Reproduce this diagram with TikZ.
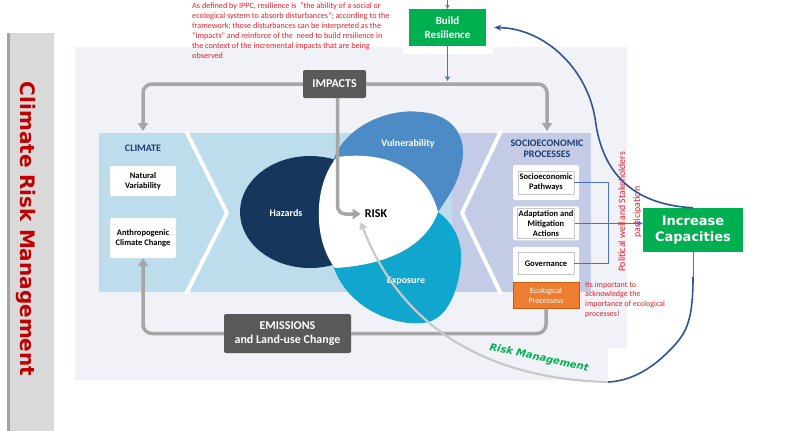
\documentclass[tikz,border=0pt]{standalone}
\usepackage{fontspec}
\setmainfont{Carlito}
\newfontfamily\verdanalike{DejaVu Sans}
\usetikzlibrary{arrows.meta, positioning, calc}
\definecolor{panelbg}{HTML}{F0F2F8}
\definecolor{climblue}{HTML}{BEDDEC}
\definecolor{sociopurple}{HTML}{C4CBE7}
\definecolor{hazardnavy}{HTML}{16365C}
\definecolor{vulnblue}{HTML}{4D8BC6}
\definecolor{exposurecyan}{HTML}{10A6CE}
\definecolor{impactgray}{HTML}{595959}
\definecolor{cyclegray}{HTML}{A6A6A6}
\definecolor{arcgray}{HTML}{C9C9C9}
\definecolor{notered}{HTML}{E3202A}
\definecolor{titlered}{HTML}{C00000}
\definecolor{boxgreen}{HTML}{00B050}
\definecolor{flowblue}{HTML}{4472C4}
\definecolor{curveblue}{HTML}{2F5597}
\definecolor{headnavy}{HTML}{1F3E6E}
\definecolor{ecoorange}{HTML}{ED7D31}
\definecolor{ecoedge}{HTML}{C55A11}
\definecolor{bargray}{HTML}{D9D9D9}
\definecolor{baredge}{HTML}{A3A3A3}

\begin{document}
\begin{tikzpicture}[
    x=1pt, y=-1pt,
    >=Stealth,
    card/.style={
        fill=white,
        rounded corners=2pt,
        minimum width=66pt,
        align=center,
        font=\bfseries\fontsize{8.5}{10}\selectfont,
    },
    inbox/.style={
        draw=black!22,
        line width=0.4pt,
        fill=white,
        inner sep=1pt,
        minimum width=56pt,
        align=center,
        font=\bfseries\fontsize{8.5}{9.8}\selectfont,
    },
    darkbox/.style={
        fill=impactgray,
        rounded corners=2pt,
        text=white,
        align=center,
    },
    greenbox/.style={
        fill=boxgreen,
        text=white,
        align=center,
    },
    shapelbl/.style={
        text=white,
        font=\bfseries\fontsize{10}{12}\selectfont,
    },
    note/.style={
        text=notered,
        align=left,
        inner sep=0pt,
    },
    cycleline/.style={
        draw=cyclegray,
        line width=3.5pt,
        rounded corners=9pt,
    },
    cyclearrow/.style={
        cycleline,
        -{Triangle[width=10pt,length=8pt]},
    },
    feed/.style={
        draw=flowblue,
        line width=0.9pt,
    },
    swoop/.style={
        draw=curveblue,
        line width=1.6pt,
    },
]
\useasboundingbox (0,0) rectangle (785,431);

% --- side title bar ---
\fill[bargray] (7,33) rectangle (54,431);
\fill[baredge] (7,33) rectangle (10,431);
\node[rotate=-90, text=titlered,
    font=\verdanalike\bfseries\fontsize{20}{24}\selectfont] (title) at (26,229) {Climate Risk Management};

% --- framework background ---
\fill[panelbg] (75,47) rectangle (627,380);
\fill[white] (403,0) rectangle (493,54);
\fill[white] (608,348) rectangle (627,380);

% --- climate / socioeconomic bands with chevrons ---
\fill[climblue] (99,133) rectangle (452,292);
\fill[sociopurple] (452,133) rectangle (591,292);
\draw[white, line width=4] (186,131) -- (227,213) -- (186,294);
\draw[white, line width=4] (501,131) -- (462,213) -- (501,294);

% --- hazards, vulnerability, exposure and the risk lens ---
\fill[hazardnavy] (310,212) ellipse [x radius=70, y radius=56];
\fill[vulnblue] (333,161) .. controls (345,125) and (390,108) .. (420,112)
    .. controls (455,114) and (470,140) .. (460,170)
    .. controls (457,185) and (446,200) .. (438,212) -- (380,215) -- cycle;
\fill[exposurecyan] (438,212) .. controls (452,222) and (463,240) .. (461,262)
    .. controls (458,295) and (445,322) .. (422,323)
    .. controls (390,326) and (345,305) .. (333,265) -- (380,220) -- cycle;
\fill[white] (337,157) .. controls (390,150) and (428,172) .. (438,212)
    .. controls (425,248) and (385,265) .. (335,268)
    .. controls (313,240) and (313,185) .. (337,157) -- cycle;

\node[shapelbl] (hazards) at (286,213) {Hazards};
\node[shapelbl] (vuln) at (408,144) {Vulnerability};
\node[shapelbl] (exposure) at (406,281) {Exposure};
\node[font=\bfseries\fontsize{12}{14}\selectfont, inner sep=4pt] (risk) at (376,214) {RISK};

% --- climate column ---
\node[text=headnavy, font=\bfseries\fontsize{10}{12}\selectfont] (climate) at (143,148) {CLIMATE};
\node[card, minimum height=30pt] (natural) at (143,181) {Natural\\Variability};
\node[card, minimum height=40pt] (anthro) at (143,238) {Anthropogenic\\Climate Change};

% --- socioeconomic column ---
\node[text=headnavy, align=center, font=\bfseries\fontsize{10}{11}\selectfont] (socio) at (547,149) {SOCIOECONOMIC\\PROCESSES};
\node[card, minimum height=35pt] (pathcard) at (546,182.5) {};
\node[card, minimum height=34pt, below=6pt of pathcard] (adaptcard) {};
\node[card, minimum height=35pt, below=6pt of adaptcard] (govcard) {};
\node[inbox, minimum height=23pt] (pathways) at (pathcard) {Socioeconomic\\Pathways};
\node[inbox, minimum height=30pt] (adapt) at (adaptcard) {Adaptation and\\Mitigation\\Actions};
\node[inbox, minimum height=22pt] (gov) at ([yshift=1pt]govcard.center) {Governance};
\node[fill=ecoorange, draw=ecoedge, line width=0.6pt, text=white, align=center,
    minimum width=66pt, minimum height=26pt, inner sep=1pt,
    font=\fontsize{8}{10}\selectfont, below=0pt of govcard] (eco) {Ecological\\Processess};

% --- loop boxes ---
\node[darkbox, minimum width=63pt, minimum height=28pt,
    font=\bfseries\fontsize{12}{14}\selectfont] (impacts) at (334.5,84) {IMPACTS};
\node[darkbox, minimum width=127pt, minimum height=39pt,
    font=\bfseries\fontsize{12}{14.5}\selectfont] (emissions) at (287.5,333.5) {EMISSIONS\\and Land-use Change};

% --- green action boxes ---
\node[greenbox, minimum width=77pt, minimum height=37pt,
    font=\bfseries\fontsize{11}{14}\selectfont] (build) at (447.5,27.5) {Build\\Resilience};
\node[greenbox, minimum width=100pt, minimum height=44pt,
    font=\verdanalike\bfseries\fontsize{13}{16}\selectfont] (capacities) at (693,230) {Increase\\Capacities};

% --- red notes ---
\node[note, anchor=north west, font=\fontsize{8.2}{10}\selectfont] (ippcnote) at (192,2.5) {%
    As defined by IPPC, resilience is \ “the ability of a social or\\
    ecological system to absorb disturbances”; according to the\\
    framework; those disturbances can be interpreted as the\\
    “impacts” and reinforce of the \ need to build resilience in\\
    the context of the incremental impacts that are being\\
    observed};
\node[note, anchor=north west, font=\fontsize{8}{9.7}\selectfont] (econote) at (585,281.5) {%
    Its important to\\acknowledge the\\importance of ecological\\processes!};
\node[note, rotate=90, align=center, font=\fontsize{9.8}{15}\selectfont] (political) at (630,212) {%
    Political well and Stakeholders\\participation};

% --- impacts / emissions loop ---
\coordinate (climtop) at (143,131);
\coordinate (sociotop) at (547,131);
\draw[cyclearrow] (impacts.west) -| (climtop);
\draw[cyclearrow] (impacts.east) -| (sociotop);
\draw[cyclearrow, rounded corners=8pt] ([xshift=3pt]impacts.south) |- (risk.west);
\draw[cycleline] (eco.south) |- (emissions.east);
\draw[cyclearrow] (emissions.west) -| (anthro.south);

% --- thin blue links ---
\coordinate (buildin) at (447.5,0);
\coordinate (impactin) at (447.5,81);
\draw[feed, -{Stealth[length=4pt,width=4pt]}] (buildin) -- (build.north);
\draw[feed, -{Stealth[length=5pt,width=5pt]}] (build.south) -- (impactin);
\coordinate (bus) at (608,0);
\draw[feed] (pathways.east) -| (bus |- gov.east) -- (gov.east);
\draw[feed, -{Stealth[length=6pt,width=5pt]}] (adapt.east) -- (adapt.east -| capacities.west);

% --- capacities feedback curves ---
\draw[swoop, -{Stealth[length=7pt,width=6pt]}, shorten >=8pt]
    (capacities.north) .. controls (640,205) and (605,180) .. (596,125)
    .. controls (590,70) and (545,28) .. (build.east);
\coordinate (capdrop) at (693,277);
\coordinate (rmbend) at (608,382);
\draw[feed, line width=0.7pt] (capacities.south) -- (capdrop);
\draw[swoop] (capdrop) .. controls (693,325) and (685,335) .. (668,352)
    .. controls (650,370) and (630,381) .. (rmbend);
\draw[arcgray, line width=2.2pt, -{Triangle[width=8pt,length=7pt]}]
    (rmbend) .. controls (520,380) and (410,350) .. (risk.south west);
\node[rotate=-12, text=boxgreen,
    font=\verdanalike\bfseries\itshape\fontsize{10}{12}\selectfont] (rmlabel) at (539,358) {Risk Management};

\end{tikzpicture}
\end{document}
